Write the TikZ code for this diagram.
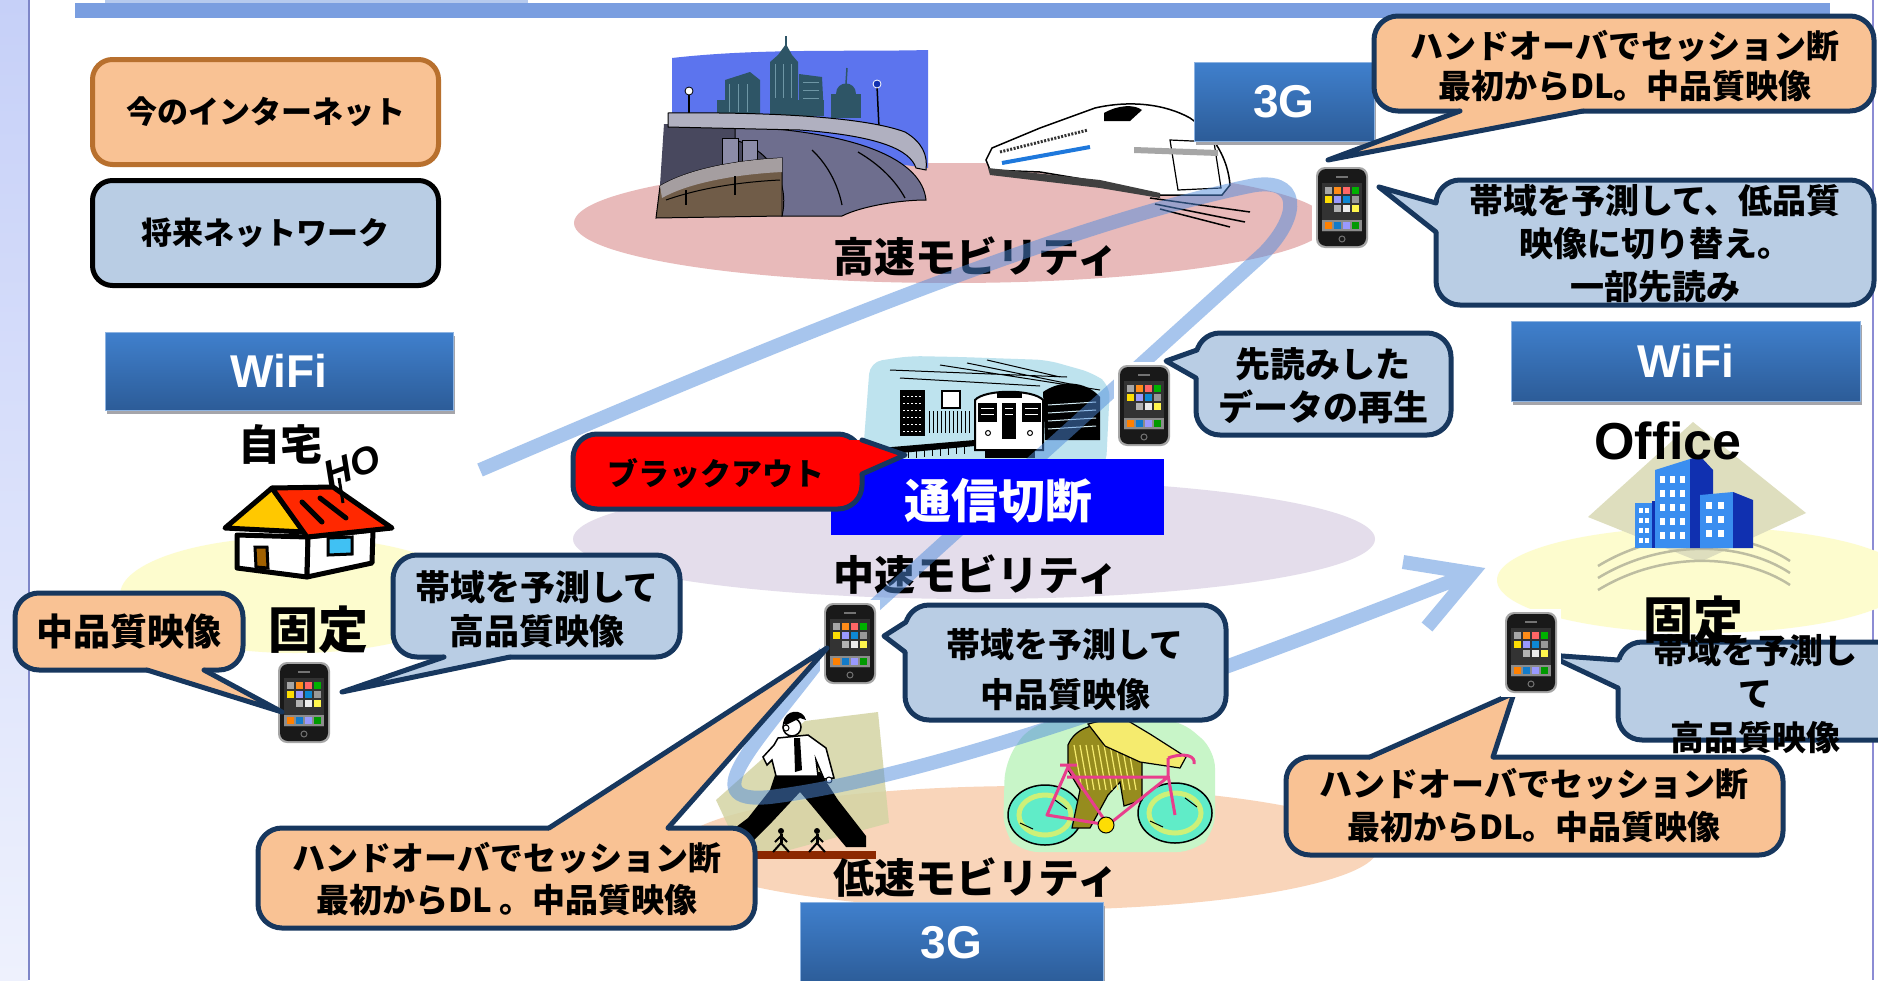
\documentclass[tikz,border=0pt]{standalone}
\usepackage{fontspec}
\setmainfont{Liberation Sans}
\newfontfamily\jpfont{Noto Sans CJK JP}
\usetikzlibrary{calc}

\definecolor{bubblenavy}{RGB}{23,55,94}
\definecolor{calloutorange}{RGB}{249,194,148}
\definecolor{calloutblue}{RGB}{185,205,228}
\definecolor{legendbrown}{RGB}{184,112,46}
\definecolor{flowblue}{RGB}{80,140,220}
\definecolor{boxtop}{RGB}{64,128,205}
\definecolor{boxbottom}{RGB}{44,92,152}
\definecolor{boxshadow}{RGB}{165,165,170}
\definecolor{highzone}{RGB}{232,186,186}
\definecolor{midzone}{RGB}{228,221,235}
\definecolor{lowzone}{RGB}{249,213,186}
\definecolor{fixzone}{RGB}{253,252,206}
\definecolor{topband}{RGB}{122,158,224}
\definecolor{stripetop}{RGB}{198,208,248}
\definecolor{stripebottom}{RGB}{238,241,253}
\definecolor{leftrule}{RGB}{126,134,200}
\definecolor{rightrule}{RGB}{140,140,212}
\definecolor{skyblue}{RGB}{92,116,238}
\definecolor{bldg}{RGB}{46,85,102}
\definecolor{bldglight}{RGB}{110,150,165}
\definecolor{deckgray}{RGB}{176,176,192}
\definecolor{underdark}{RGB}{72,72,94}
\definecolor{roadpurple}{RGB}{110,110,142}
\definecolor{colgray}{RGB}{140,140,168}
\definecolor{rampbrown}{RGB}{112,92,72}
\definecolor{rampgray}{RGB}{165,158,160}
\definecolor{stripeblue}{RGB}{30,120,220}
\definecolor{subwayblue}{RGB}{190,227,238}
\definecolor{roofred}{RGB}{255,40,0}
\definecolor{gableyellow}{RGB}{255,200,0}
\definecolor{doorbrown}{RGB}{160,96,0}
\definecolor{khaki}{RGB}{212,212,164}
\definecolor{barbrown}{RGB}{140,40,0}
\definecolor{bikeglow}{RGB}{200,245,200}
\definecolor{wheelteal}{RGB}{96,236,200}
\definecolor{wheelring}{RGB}{205,240,120}
\definecolor{bikepink}{RGB}{232,62,140}
\definecolor{rideryellow}{RGB}{245,235,110}
\definecolor{riderolive}{RGB}{150,140,30}
\definecolor{officediamond}{RGB}{222,222,190}
\definecolor{officefront}{RGB}{58,142,240}
\definecolor{officeside}{RGB}{16,48,176}

\newcommand\jps[2]{\jpfont\bfseries\fontsize{#1}{#2}\selectfont}

% speech bubble: fill, two corners, tail tip, tail base points, same points moved inside
\newcommand\callout[8]{%
  \path[fill=#1, bubbleline, rounded corners=24] #2 rectangle #3;
  \fill[#1] #4 -- #5 -- #7 -- #8 -- #6 -- cycle;
  \draw[bubbleline, line cap=round, line join=round] #5 -- #4 -- #6;
}

% network label box with a drop shadow
\newcommand\netbox[4]{%
  \fill[boxshadow] ($#2+(2,4)$) rectangle ($#3+(2,4)$);
  \shade[top color=boxtop, bottom color=boxbottom] #2 rectangle #3;
  \draw[boxtop!60!white, line width=1pt] #2 rectangle #3;
  \node[netlabel] (#1) at ($#2!0.5!#3$) {#4};
}

% smartphone
\newcommand\handset[1]{%
  \begin{scope}[shift={#1}]
    \fill[white] (-30,-43) rectangle (30,45);
    \fill[black!35, rounded corners=9] (-26,-40) rectangle (26,41);
    \fill[black!90, rounded corners=8] (-24,-38) rectangle (24,39);
    \fill[black!55] (-6,-31) rectangle (6,-29);
    \fill[black!80] (-20,-24) rectangle (20,25);
    \foreach \ix/\iy/\ic in {-14/-17/gray!70, -5/-17/orange!90, 4/-17/red!60, 13/-17/green!70!black,
        -14/-8/yellow!80!orange, -5/-8/blue!40, 4/-8/cyan!70!blue, 13/-8/gray!80,
        -5/1/gray!60, 4/1/white!85!gray, 13/1/yellow!70}
      \fill[\ic] (\ix-3.5,\iy-3.5) rectangle (\ix+3.5,\iy+3.5);
    \fill[black!45] (-20,13) rectangle (20,24);
    \foreach \ix/\ic in {-14/orange, -5/cyan!60!blue, 4/blue!40, 13/green!60!black}
      \fill[\ic] (\ix-3.5,15) rectangle (\ix+3.5,22);
    \draw[black!55, line width=1pt] (0,32) circle[radius=3];
  \end{scope}
}

\begin{document}
\begin{tikzpicture}[x=1pt,y=-1pt,
  bubbleline/.style={draw=bubblenavy, line width=5pt},
  flow/.style={draw=flowblue, draw opacity=0.5, line width=14pt, line join=miter},
  netlabel/.style={text=white, font=\bfseries\fontsize{46}{46}\selectfont, inner sep=0pt},
  legendbox/.style={line width=5pt, rounded corners=20, minimum width=346pt, minimum height=105pt,
    font=\jps{31}{36}, inner sep=0pt},
  zonelabel/.style={font=\jps{41}{48}, inner sep=0pt},
  bubbletext/.style={align=center, inner sep=0pt},
]
\useasboundingbox (0,0) rectangle (1878,980);
\clip (0,0) rectangle (1878,980);
\fill[white] (0,0) rectangle (1878,980);

% page frame
\shade[top color=stripetop, bottom color=stripebottom] (0,0) rectangle (28,980);
\draw[leftrule, line width=2pt] (29,0) -- (29,980);
\draw[rightrule, line width=2pt] (1873,0) -- (1873,980);
\fill[topband] (75,3) rectangle (1830,18);
\fill[topband!55!white] (105,0) rectangle (528,3);

% mobility zones
\fill[highzone] (951,223) ellipse [x radius=377, y radius=60];
\fill[midzone] (974,539) ellipse [x radius=401, y radius=60];
\fill[lowzone] (1028,848) ellipse [x radius=350, y radius=62];
\fill[fixzone] (295,595) ellipse [x radius=175, y radius=58];
\fill[fixzone] (1703,580) ellipse [x radius=206, y radius=53];

% city and elevated road
\fill[skyblue] (672,58) .. controls (760,48) and (850,52) .. (928,50) -- (928,168) -- (672,135) -- cycle;
\fill[bldg] (717,100) rectangle (732,116);
\fill[bldg] (725,80) -- (750,72) -- (760,80) -- (760,116) -- (725,116) -- cycle;
\fill[bldg] (770,62) -- (778,55) -- (786,44) -- (792,55) -- (798,62) -- (798,116) -- (770,116) -- cycle;
\draw[bldg, line width=1.5pt] (786,46) -- (786,36);
\fill[bldg] (799,74) -- (822,77) -- (824,116) -- (799,116) -- cycle;
\fill[bldg] (774,100) rectangle (824,116);
\fill[bldg] (831,94) rectangle (861,118);
\fill[bldg] (836,94) .. controls (836,80) and (856,80) .. (856,94) -- cycle;
\draw[bldg, line width=1.5pt] (846,84) -- (847,68);
\foreach \wx in {729,738,747} \draw[bldglight, line width=1pt] (\wx,84) -- (\wx,112);
\foreach \wx in {775,783,791} \draw[bldglight, line width=1pt] (\wx,64) -- (\wx,98);
\foreach \wy in {82,90,98} \draw[bldglight, line width=1pt] (803,\wy) -- (819,\wy);
\draw[black, line width=1.5pt] (689,94) -- (689,116);
\fill[white, draw=black, line width=0.8pt] (689,91) circle[radius=4];
\draw[black, line width=1.5pt] (877,86) -- (879,128);
\fill[officeside, draw=white, line width=0.8pt] (877,84) circle[radius=4];
\fill[underdark] (664,124) -- (770,126) -- (770,200) -- (660,185) -- cycle;
\fill[roadpurple, draw=black, line width=1pt] (735,126) .. controls (860,132) and (922,160) .. (926,200)
  .. controls (900,200) and (862,206) .. (842,216) -- (782,216) .. controls (790,182) and (770,150) .. (735,140) -- cycle;
\draw[black, line width=1.2pt] (812,150) .. controls (828,165) and (838,185) .. (842,205);
\draw[black, line width=1.2pt] (858,152) .. controls (880,165) and (895,180) .. (905,198);
\fill[deckgray, draw=black, line width=1pt] (668,113) .. controls (760,112) and (862,116) .. (905,132)
  .. controls (922,142) and (928,155) .. (926,170) -- (916,168) .. controls (910,150) and (880,136) .. (800,130)
  -- (668,127) -- cycle;
\fill[colgray, draw=black, line width=0.8pt] (722,138) rectangle (738,200);
\fill[colgray, draw=black, line width=0.8pt] (742,140) rectangle (757,206);
\fill[rampbrown, draw=black, line width=1pt] (656,218) -- (660,186) .. controls (690,168) and (740,160) .. (782,158) -- (782,216) -- cycle;
\fill[rampgray] (660,186) .. controls (690,168) and (740,160) .. (782,158) -- (782,172) .. controls (740,174) and (690,182) .. (662,198) -- cycle;
\draw[black, line width=1pt] (666,200) .. controls (700,188) and (740,182) .. (780,180);
\draw[black, line width=1.2pt] (686,190) -- (686,205) (735,176) -- (735,195);

% bullet train
\fill[white, draw=black, line width=1.5pt] (986,160) -- (992,148) -- (1040,128) -- (1095,108)
  .. controls (1130,100) and (1165,104) .. (1190,118) .. controls (1215,135) and (1228,160) .. (1230,185)
  -- (1222,195) -- (1160,195) -- (1100,182) -- (1040,172) -- (990,170) -- cycle;
\fill[black] (1104,113) .. controls (1118,105) and (1134,104) .. (1142,110) -- (1130,121) -- (1104,121) -- cycle;
\draw[black!80, line width=3pt, dash pattern=on 2pt off 1.5pt] (1000,152) -- (1088,130);
\draw[stripeblue, line width=4pt] (1002,163) -- (1090,147);
\draw[black, line width=1.2pt] (1170,140) -- (1214,142) -- (1221,188) -- (1178,190) -- cycle;
\fill[gray!70] (1134,147) -- (1218,150) -- (1218,156) -- (1134,153) -- cycle;
\fill[black!75] (988,168) -- (1100,180) -- (1160,193) -- (1160,198) -- (1100,188) -- (990,175) -- cycle;
\draw[black, line width=1.5pt] (1150,198) -- (1250,212) (1155,204) -- (1245,222) (1160,209) -- (1230,227);

% underground platform
\fill[subwayblue, rounded corners=12] (870,362) -- (910,356) -- (960,357) -- (1047,360) -- (1093,373)
  -- (1110,385) -- (1106,467) -- (862,467) -- cycle;
\draw[black, line width=1pt] (890,370) -- (1067,377) (940,365) -- (1100,390) (967,363) -- (1080,386)
  (987,360) -- (1060,377) (900,378) -- (1040,386);
\fill[black] (900,390) rectangle (925,436);
\foreach \gy in {396,403,410,417,424,431} \draw[white, line width=0.8pt, dash pattern=on 2pt off 2pt] (903,\gy) -- (922,\gy);
\fill[white, draw=black, line width=1.5pt] (942,391) rectangle (960,408);
\foreach \fx in {929,933,...,969} \draw[black, line width=1pt] (\fx,411) -- (\fx,433);
\fill[black] (1043,392) .. controls (1060,380) and (1085,380) .. (1100,397) -- (1100,440) -- (1045,440) -- cycle;
\foreach \ty in {405,413,421,429} \draw[subwayblue!70!white, line width=1pt] (1048,\ty) -- (1096,\ty-3);
\fill[white, draw=black, line width=2pt] (975,450) -- (975,400) .. controls (985,389) and (1033,389) .. (1043,400) -- (1043,450) -- cycle;
\fill[black] (997,393) rectangle (1022,398);
\foreach \wl/\wr/\wb in {978/997/422, 1002/1016/439, 1022/1041/422} {
  \fill[black] (\wl,403) rectangle (\wr,\wb);
  \foreach \sy in {408,414} \draw[white, line width=0.8pt] (\wl+3,\sy) -- (\wr-3,\sy);
}
\foreach \lx in {988,1030} \draw[black, line width=1pt] (\lx,433) circle[radius=2.5];
\fill[black] (880,448) -- (975,440) -- (975,446) -- (880,455) -- cycle;
\foreach \tx in {884,892,...,968} \draw[black, line width=1pt] (\tx,448-\tx/12+74) -- (\tx,460-\tx/12+74);
\fill[black] (985,450) rectangle (1035,458);

% house
\fill[white, draw=black, line width=5pt, line join=round] (237,535) -- (308,537) -- (307,577) -- (237,568) -- cycle;
\fill[white, draw=black, line width=5pt, line join=round] (308,537) -- (373,530) -- (372,563) -- (307,577) -- cycle;
\fill[doorbrown, draw=black, line width=3pt] (255,547) -- (267,547) -- (268,568) -- (256,567) -- cycle;
\fill[cyan!75, draw=black, line width=3pt] (328,538) -- (352,537) -- (352,554) -- (328,555) -- cycle;
\fill[gableyellow, draw=black, line width=5pt, line join=round] (225,528) -- (272,488) -- (304,532) -- cycle;
\fill[roofred, draw=black, line width=5pt, line join=round] (272,488) -- (333,487) -- (392,528) -- (307,537) -- cycle;
\draw[black, line width=5pt, line cap=round] (302,502) -- (322,522) (320,498) -- (346,518);
\draw[black, line width=3pt] (343,503) -- (339,478);
\node[font=\bfseries\itshape\fontsize{38}{38}\selectfont, rotate=20, inner sep=0pt] (smoke) at (352,466) {HO};

% walking commuter
\fill[khaki, opacity=0.85] (716,800) -- (805,721) -- (878,712) -- (889,823) -- (745,862) -- cycle;
\fill[barbrown] (741,851) rectangle (876,859);
\fill[black] (776,772) -- (820,772) -- (838,800) -- (866,836) -- (866,847) -- (846,847) -- (812,806)
  -- (800,792) -- (772,822) -- (746,848) -- (720,845) -- (724,836) -- (748,818) -- (770,790) -- cycle;
\fill[white, draw=black, line width=1.5pt] (778,738) -- (808,735) -- (826,748) -- (834,778) -- (824,779)
  -- (816,760) -- (818,776) -- (776,776) -- (772,760) -- (767,765) -- (763,757) -- (774,745) -- cycle;
\fill[black] (794,738) -- (800,738) -- (802,770) -- (795,772) -- cycle;
\fill[white, draw=black, line width=1.5pt] (792,727) circle[radius=9];
\fill[black] (783,723) .. controls (785,709) and (803,708) .. (806,720) -- (800,718) -- (786,725) -- cycle;
\draw[black, line width=1pt] (786,728) circle[radius=3];
\fill[white, draw=black, line width=1pt] (829,780) circle[radius=3];
\foreach \mx in {781,817} {
  \fill[black] (\mx,831) circle[radius=3];
  \draw[black, line width=3pt] (\mx,834) -- (\mx,843);
  \draw[black, line width=2pt] (\mx,843) -- (\mx-8,852) (\mx,843) -- (\mx+8,852) (\mx,836) -- (\mx-6,842) (\mx,836) -- (\mx+6,842);
}

% cyclist
\fill[bikeglow, rounded corners=18] (1005,762) -- (1030,725) -- (1090,716) -- (1180,720) -- (1215,750)
  -- (1215,832) -- (1195,852) -- (1020,852) -- (1003,832) -- cycle;
\foreach \cx/\cy in {1045/815, 1175/813} {
  \fill[wheelteal, draw=black, line width=1.5pt] (\cx,\cy) ellipse [x radius=37, y radius=30];
  \draw[wheelring, line width=5pt] (\cx,\cy) ellipse [x radius=26, y radius=20];
  \draw[black, line width=1pt] (\cx-25,\cy+8) -- (\cx-12,\cy+14) (\cx+10,\cy-15) -- (\cx+22,\cy-6);
}
\fill[riderolive, draw=black, line width=1.2pt] (1068,745) .. controls (1075,728) and (1095,722) .. (1112,726)
  -- (1142,758) -- (1142,800) -- (1124,806) -- (1120,782) -- (1108,795) -- (1090,828) -- (1072,828)
  -- (1080,790) -- (1068,770) -- cycle;
\foreach \hx in {1074,1080,...,1128} \draw[rideryellow, line width=1.2pt] (\hx,745) -- (\hx+8,790);
\fill[rideryellow, draw=black, line width=1.2pt] (1088,724) -- (1120,716) -- (1150,734) -- (1186,757)
  -- (1180,768) -- (1140,762) -- (1105,746) -- cycle;
\draw[bikepink, line width=3pt, line join=round] (1047,815) -- (1068,767) -- (1108,825) -- cycle
  (1067,777) -- (1168,777) -- (1108,825) (1168,775) -- (1175,815) (1168,777) -- (1168,758)
  (1168,758) .. controls (1185,752) and (1196,756) .. (1194,764) (1060,765) -- (1077,765);
\fill[yellow!80!orange, draw=black, line width=1pt] (1106,825) circle[radius=8];

% office block
\fill[officediamond] (1588,517) -- (1693,422) -- (1806,513) -- (1700,562) -- cycle;
\foreach \d in {0,12,24}
  \draw[officediamond!85!black, line width=2.5pt] (1598,590-\d) .. controls (1660,552-\d) and (1740,552-\d) .. (1790,585-\d);
\fill[officefront] (1635,503) rectangle (1652,548);
\fill[officeside] (1652,501) rectangle (1658,548);
\fill[officefront] (1655,470) -- (1690,459) -- (1690,548) -- (1655,548) -- cycle;
\fill[officeside] (1690,459) -- (1700,456) -- (1713,470) -- (1713,548) -- (1690,548) -- cycle;
\fill[officefront] (1700,495) -- (1733,492) -- (1733,548) -- (1700,548) -- cycle;
\fill[officeside] (1733,492) -- (1753,500) -- (1753,548) -- (1733,548) -- cycle;
\foreach \wx in {1639,1645} \foreach \wy in {508,518,528,538} \fill[white] (\wx,\wy) rectangle (\wx+4,\wy+5);
\foreach \wx in {1660,1670,1680} \foreach \wy in {476,490,504,518,532} \fill[white] (\wx,\wy) rectangle (\wx+5,\wy+7);
\foreach \wx in {1706,1718} \foreach \wy in {502,516,530} \fill[white] (\wx,\wy) rectangle (\wx+6,\wy+7);

% zone captions
\node[zonelabel] (high) at (976,257) {高速モビリティ};
\node[zonelabel] (mid) at (976,575) {中速モビリティ};
\node[zonelabel] (low) at (976,878) {低速モビリティ};
\node[font=\jps{42}{48}, inner sep=0pt] (home) at (280,444) {自宅};
\node[font=\jps{50}{56}, inner sep=0pt] (fixleft) at (318,630) {固定};
\node[font=\bfseries\fontsize{52}{52}\selectfont, inner sep=0pt] (office) at (1668,441) {Office};

% terminal's route
\draw[flow] (480,470) .. controls (760,350) and (1060,225) .. (1250,186)
  .. controls (1300,176) and (1302,214) .. (1264,253)
  -- (830,646)
  .. controls (760,740) and (690,805) .. (770,797)
  .. controls (950,775) and (1250,660) .. (1472,573)
  (1403,562) -- (1472,573) -- (1427,627);

% legend
\node[legendbox, draw=legendbrown, fill=calloutorange] (legendnow) at (265.5,112) {今のインターネット};
\node[legendbox, draw=black, fill=calloutblue] (legendfuture) at (265.5,233) {将来ネットワーク};

% access networks
\netbox{wifihome}{(105,332)}{(453,410)}{WiFi}
\netbox{gtop}{(1194,62)}{(1374,141)}{3G}
\netbox{wifioffice}{(1511,321)}{(1860,401)}{WiFi}
\netbox{gbottom}{(800,902)}{(1103,984)}{3G}
\fill[blue] (831,459) rectangle (1164,535);
\node[font=\jps{47}{52}, text=white, inner sep=0pt] (cut) at (998,501) {通信切断};

% handsets
\handset{(1342,207)}
\handset{(1144,405)}
\handset{(304,702)}
\handset{(850,643)}

% speech bubbles
\callout{red}{(573,434)}{(862,509)}{(905,455)}{(862,440)}{(862,474)}{(850,440)}{(850,474)}
\callout{calloutorange}{(1374,16)}{(1874,111)}{(1328,160)}{(1460,111)}{(1583,111)}{(1460,99)}{(1583,99)}
\callout{calloutblue}{(1436,180)}{(1874,305)}{(1379,187)}{(1436,203)}{(1436,232)}{(1448,203)}{(1448,232)}
\callout{calloutblue}{(1196,333)}{(1451,435)}{(1166,361)}{(1197,350)}{(1196,378)}{(1209,350)}{(1208,378)}
\callout{calloutorange}{(15,593)}{(243,670)}{(282,712)}{(147,670)}{(204,670)}{(147,658)}{(204,658)}
\callout{calloutblue}{(393,555)}{(680,657)}{(342,692)}{(444,657)}{(510,657)}{(444,645)}{(510,645)}
\callout{calloutblue}{(905,605)}{(1226,720)}{(884,636)}{(906,622)}{(905,652)}{(918,622)}{(917,652)}
\callout{calloutorange}{(258,828)}{(755,928)}{(827,648)}{(549,828)}{(668,828)}{(549,840)}{(668,840)}
\callout{calloutblue}{(1618,642)}{(1905,740)}{(1548,655)}{(1618,660)}{(1618,688)}{(1630,660)}{(1630,688)}
\callout{calloutorange}{(1286,757)}{(1783,855)}{(1514,693)}{(1370,757)}{(1493,757)}{(1370,769)}{(1493,769)}
\handset{(1531,652)}

\node[font=\jps{50}{56}, inner sep=0pt] (fixright) at (1693,620) {固定};

% bubble texts
\node[font=\jps{31}{36}, inner sep=0pt] (blackout) at (716,474) {ブラックアウト};
\node[bubbletext, font=\jps{33}{40}] (handtop) at (1625,66) {ハンドオーバでセッション断\\最初からDL。中品質映像};
\node[bubbletext, font=\jps{34}{43}] (lowq) at (1655,244) {帯域を予測して、低品質\\映像に切り替え。\\一部先読み};
\node[bubbletext, font=\jps{35}{43}] (replay) at (1323,386) {先読みした\\データの再生};
\node[font=\jps{37}{40}, inner sep=0pt] (midleft) at (129,632) {中品質映像};
\node[bubbletext, font=\jps{35}{44}] (highleft) at (537,609) {帯域を予測して\\高品質映像};
\node[bubbletext, font=\jps{34}{50}] (midq) at (1065,670) {帯域を予測して\\中品質映像};
\node[bubbletext, font=\jps{33}{42}] (handlow) at (507,879) {ハンドオーバでセッション断\\最初からDL 。中品質映像};
\node[bubbletext, font=\jps{34}{43.5}] (highright) at (1755,694) {帯域を予測し\\て\\高品質映像};
\node[bubbletext, font=\jps{33}{43}] (handright) at (1534,805) {ハンドオーバでセッション断\\最初からDL。中品質映像};
\end{tikzpicture}
\end{document}
